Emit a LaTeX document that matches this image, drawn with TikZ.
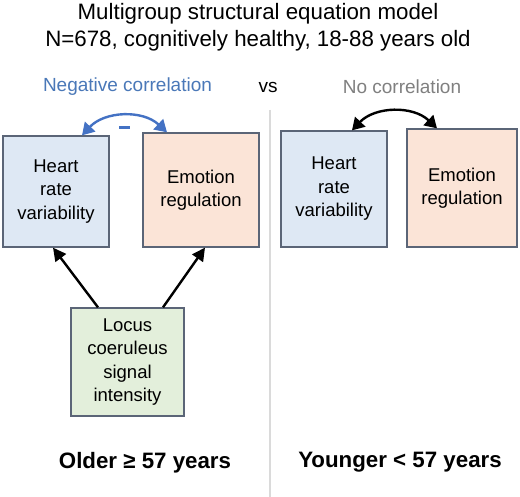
\documentclass[tikz,border=0pt]{standalone}
\usepackage{fontspec}
\setmainfont{Liberation Sans}
\usetikzlibrary{arrows.meta}
\definecolor{boxline}{HTML}{5B6577}
\definecolor{hrvfill}{HTML}{DEE8F4}
\definecolor{emofill}{HTML}{FBE4D7}
\definecolor{lcfill}{HTML}{E3EFDB}
\definecolor{negblue}{HTML}{4A78B8}
\definecolor{arrblue}{HTML}{4472C4}
\definecolor{divgray}{HTML}{DADADA}
\definecolor{nogray}{HTML}{808080}
\tikzset{
  varbox/.style={draw=boxline, line width=1.3pt, align=center, inner sep=0pt,
    font=\fontsize{18.5}{23.5}\selectfont},
  titletext/.style={font=\fontsize{22.3}{27}\selectfont, align=center},
  grouplabel/.style={font=\bfseries\fontsize{22.3}{26}\selectfont},
  corrlabel/.style={font=\fontsize{19}{22}\selectfont},
  effect/.style={line width=2.4pt, -{Triangle[length=13pt,width=13pt]}},
  corr/.style={line width=2.4pt, {Triangle[length=12pt,width=14pt]}-{Triangle[length=12pt,width=14pt]}}
}
\begin{document}
\begin{tikzpicture}[x=1pt,y=-1pt]
\useasboundingbox[fill=white] (0,0) rectangle (520,497);
% title
\node[titletext] (title) at (258,27) {Multigroup structural equation model\\N=678, cognitively healthy, 18-88 years old};
% divider
\coordinate (divtop) at (270,110);
\coordinate (divbot) at (270,497);
\draw[divgray, line width=2pt] (divtop) -- (divbot);
% labels
\node[corrlabel, text=negblue] (neg) at (127.5,87) {Negative correlation};
\node[corrlabel] (vs) at (268,87) {vs};
\node[corrlabel, text=nogray] (nocorr) at (402,87) {No correlation};
% left group
\node[varbox, fill=hrvfill, minimum width=106pt, minimum height=111pt] (hrvL) at (56,191.5) {Heart\\rate\\variability};
\node[varbox, fill=emofill, minimum width=116pt, minimum height=114pt] (emoL) at (201,190) {Emotion\\regulation};
\node[varbox, fill=lcfill, minimum width=113pt, minimum height=108pt] (lc) at (127.5,362) {Locus\\coeruleus\\signal\\intensity};
\draw[effect] ([xshift=-29.5pt]lc.north) -- ([xshift=-3pt]hrvL.south);
\draw[effect] ([xshift=35.5pt]lc.north) -- ([xshift=4pt]emoL.south);
\draw[corr, arrblue] ([xshift=26pt]hrvL.north) to[bend left=45] ([xshift=-34pt]emoL.north);
\node[fill=arrblue, inner sep=0pt, minimum width=11pt, minimum height=3.5pt] (minus) at (124.5,127.5) {};
% right group
\node[varbox, fill=hrvfill, minimum width=106pt, minimum height=116pt] (hrvR) at (334,189) {Heart\\rate\\variability};
\node[varbox, fill=emofill, minimum width=110pt, minimum height=118pt] (emoR) at (462,188) {Emotion\\regulation};
\draw[corr, black] ([xshift=18pt]hrvR.north) to[bend left=45] ([xshift=-25pt]emoR.north);
% group labels
\node[grouplabel] (older) at (145,463) {Older ≥ 57 years};
\node[grouplabel] (younger) at (400,462) {Younger < 57 years};
\end{tikzpicture}
\end{document}
